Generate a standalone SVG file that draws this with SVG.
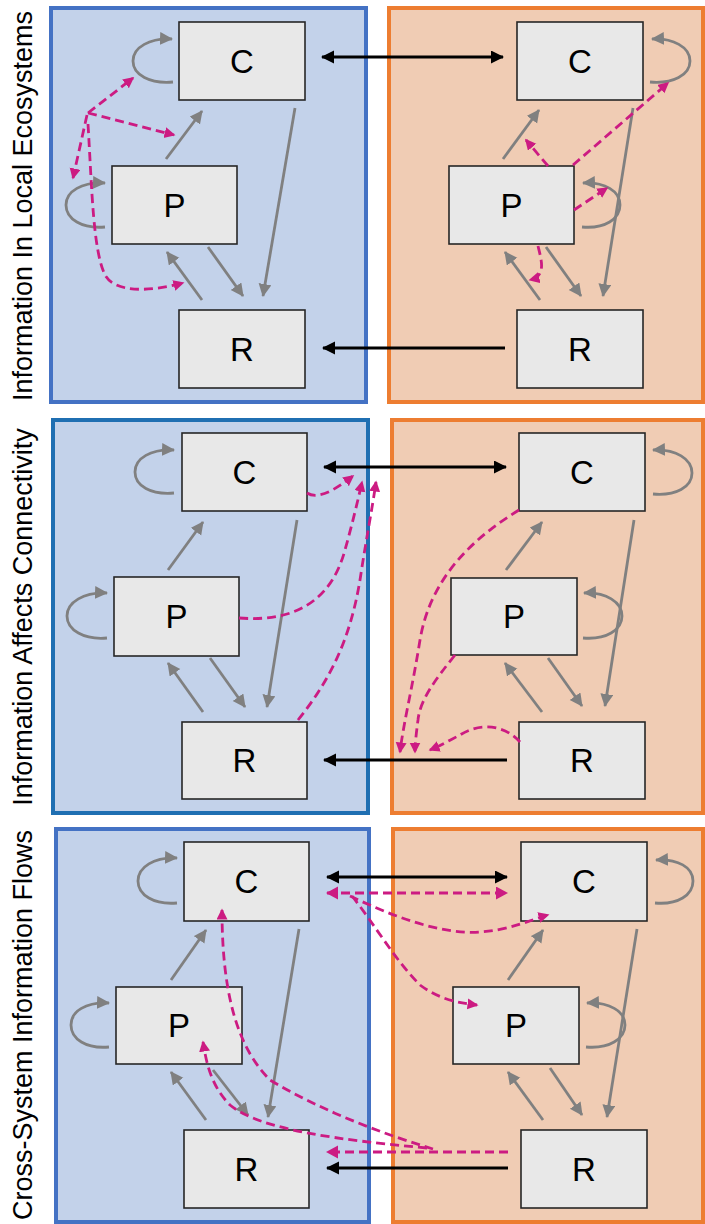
<svg xmlns="http://www.w3.org/2000/svg" width="705" height="1224" viewBox="0 0 705 1224">
<style>
.bp{fill:#c3d2ea;stroke:#4472c4;stroke-width:4}
.bp2{fill:#c3d2ea;stroke:#1f6fb2;stroke-width:4}
.op{fill:#f0ccb4;stroke:#ed7d31;stroke-width:4}
.nd rect{fill:#e8e8e8;stroke:#262626;stroke-width:1.6}
.nd text{font-family:"Liberation Sans",Arial,sans-serif;font-size:33px;text-anchor:middle;fill:#000}
.lbl{font-family:"Liberation Sans",Arial,sans-serif;font-size:27px;text-anchor:middle;fill:#000}
.g{fill:none;stroke:#808080;stroke-width:2.8;marker-end:url(#ag)}
.k{fill:none;stroke:#000;stroke-width:2.8;marker-end:url(#ak)}
.kk{fill:none;stroke:#000;stroke-width:2.8;marker-end:url(#ak);marker-start:url(#ak)}
.m{fill:none;stroke:#cc1b82;stroke-width:2.8;stroke-dasharray:9,5;marker-end:url(#am)}
.mb{fill:none;stroke:#cc1b82;stroke-width:2.8;stroke-dasharray:9,5;marker-end:url(#amb)}
.mbb{fill:none;stroke:#cc1b82;stroke-width:2.8;stroke-dasharray:9,5;marker-end:url(#amb);marker-start:url(#amb)}
</style>
<defs>
<marker id="ag" markerUnits="userSpaceOnUse" markerWidth="14" markerHeight="14" refX="12" refY="6.5" orient="auto-start-reverse"><path d="M0,0 L13,6.5 L0,13 Z" fill="#808080"/></marker>
<marker id="ak" markerUnits="userSpaceOnUse" markerWidth="14" markerHeight="14" refX="12" refY="6.5" orient="auto-start-reverse"><path d="M0,0 L13,6.5 L0,13 Z" fill="#000"/></marker>
<marker id="am" markerUnits="userSpaceOnUse" markerWidth="12" markerHeight="12" refX="9.5" refY="5.5" orient="auto-start-reverse"><path d="M0,0 L11,5.5 L0,11 Z" fill="#cc1b82"/></marker>
<marker id="amb" markerUnits="userSpaceOnUse" markerWidth="14" markerHeight="14" refX="11" refY="6.5" orient="auto-start-reverse"><path d="M0,0 L12,6.5 L0,13 Z" fill="#cc1b82"/></marker>
</defs>
<rect width="705" height="1224" fill="#fff"/>
<g id="panels">
<rect class="bp" x="51" y="8" width="315" height="394"/>
<rect class="op" x="389" y="8" width="314" height="394"/>
<rect class="bp2" x="53" y="420" width="315" height="393"/>
<rect class="op" x="392" y="420" width="311" height="393"/>
<rect class="bp" x="56" y="829" width="313" height="393"/>
<rect class="op" x="393" y="829" width="310" height="393"/>
</g>
<g id="labels">
<text class="lbl" transform="translate(32,206) rotate(-90)">Information In Local Ecosystems</text>
<text class="lbl" transform="translate(32,617) rotate(-90)">Information Affects Connectivity</text>
<text class="lbl" transform="translate(32,1025) rotate(-90)">Cross-System Information Flows</text>
</g>
<g id="n1LC" class="nd"><rect x="179" y="22" width="126" height="78"/><text x="242" y="73">C</text></g>
<g id="n1LP" class="nd"><rect x="112" y="166" width="125" height="78"/><text x="174.5" y="217">P</text></g>
<g id="n1LR" class="nd"><rect x="179" y="310" width="126" height="78"/><text x="242" y="361">R</text></g>
<g id="n1RC" class="nd"><rect x="517" y="22" width="126" height="78"/><text x="580" y="73">C</text></g>
<g id="n1RP" class="nd"><rect x="449" y="166" width="125" height="78"/><text x="511.5" y="217">P</text></g>
<g id="n1RR" class="nd"><rect x="517" y="310" width="126" height="78"/><text x="580" y="361">R</text></g>
<g id="n2LC" class="nd"><rect x="182" y="433" width="125" height="78"/><text x="244.5" y="484">C</text></g>
<g id="n2LP" class="nd"><rect x="114" y="577" width="125" height="79"/><text x="176.5" y="628">P</text></g>
<g id="n2LR" class="nd"><rect x="182" y="722" width="125" height="77"/><text x="244.5" y="772">R</text></g>
<g id="n2RC" class="nd"><rect x="519" y="433" width="126" height="78"/><text x="582" y="484">C</text></g>
<g id="n2RP" class="nd"><rect x="451" y="578" width="126" height="77"/><text x="514" y="628">P</text></g>
<g id="n2RR" class="nd"><rect x="519" y="722" width="126" height="77"/><text x="582" y="772">R</text></g>
<g id="n3LC" class="nd"><rect x="184" y="842" width="125" height="79"/><text x="246.5" y="893">C</text></g>
<g id="n3LP" class="nd"><rect x="116" y="987" width="126" height="77"/><text x="179" y="1037">P</text></g>
<g id="n3LR" class="nd"><rect x="184" y="1130" width="125" height="78"/><text x="246.5" y="1181">R</text></g>
<g id="n3RC" class="nd"><rect x="521" y="842" width="126" height="79"/><text x="584" y="893">C</text></g>
<g id="n3RP" class="nd"><rect x="453" y="987" width="126" height="77"/><text x="516" y="1037">P</text></g>
<g id="n3RR" class="nd"><rect x="521" y="1130" width="126" height="78"/><text x="584" y="1181">R</text></g>
<g id="connectors">
<!-- row 1 -->
<path class="kk" d="M322,57 L503,57"/>
<path class="k" d="M505,348 L323,348"/>
<path class="g" d="M173,82 C150,84 133,75 133,61 C133,47 150,38 172,39"/>
<path class="g" d="M105,227 C82,229 66,219 66,205 C66,191 82,182 105,183"/>
<path class="g" d="M166,159 L202,111"/>
<path class="g" d="M295,108 L263,296"/>
<path class="g" d="M208,247 L243,296"/>
<path class="g" d="M202,300 L167,252"/>
<path class="g" d="M650,82 C673,84 690,75 690,61 C690,47 673,38 652,39"/>
<path class="g" d="M582,227 C605,229 620,219 620,205 C620,191 605,182 583,183"/>
<path class="g" d="M503,159 L539,110"/>
<path class="g" d="M633,108 L603,296"/>
<path class="g" d="M546,247 L581,296"/>
<path class="g" d="M540,300 L505,252"/>
<path class="m" d="M88,113 L133,78"/>
<path class="m" d="M88,113 L174,135"/>
<path class="m" d="M87,115 L73,178"/>
<path class="m" d="M88,124 C92,190 93,250 105,275 C115,293 150,292 183,283"/>
<path class="m" d="M548,166 L526,140"/>
<path class="m" d="M573,165 L668,83"/>
<path class="m" d="M574,210 L607,188"/>
<path class="m" d="M538,246 C542,262 546,276 530,280"/>
<!-- row 2 -->
<path class="kk" d="M324,467 L506,467"/>
<path class="k" d="M507,760 L324,760"/>
<path class="g" d="M174,493 C151,495 135,486 135,472 C135,458 151,449 174,450"/>
<path class="g" d="M107,638 C84,640 67,630 67,616 C67,602 84,592 107,593"/>
<path class="g" d="M168,570 L203,522"/>
<path class="g" d="M297,520 L267,707"/>
<path class="g" d="M210,658 L245,707"/>
<path class="g" d="M203,712 L168,663"/>
<path class="g" d="M653,494 C676,496 692,487 692,473 C692,459 676,449 653,450"/>
<path class="g" d="M583,638 C606,640 622,630 622,616 C622,602 606,592 584,593"/>
<path class="g" d="M506,570 L542,522"/>
<path class="g" d="M634,520 L605,706"/>
<path class="g" d="M548,658 L582,706"/>
<path class="g" d="M542,712 L505,663"/>
<path class="m" d="M307,493 C318,500 335,490 353,476"/>
<path class="m" d="M239,618 C290,622 330,605 345,550 C352,525 358,500 362,482"/>
<path class="m" d="M298,720 C330,680 350,640 360,580 C366,540 372,510 376,482"/>
<path class="m" d="M519,510 C470,540 430,580 420,640 C412,690 404,720 400,752"/>
<path class="m" d="M455,655 C435,680 420,700 418,720 C416,735 415,745 415,752"/>
<path class="m" d="M520,742 C505,725 480,722 460,735 C450,740 440,746 430,750"/>
<!-- row 3 -->
<path class="kk" d="M327,877 L507,877"/>
<path class="k" d="M508,1168 L327,1168"/>
<path class="g" d="M177,903 C154,905 138,895 138,881 C138,867 154,857 177,858"/>
<path class="g" d="M109,1047 C86,1049 71,1039 71,1025 C71,1011 86,1002 109,1003"/>
<path class="g" d="M171,980 L206,930"/>
<path class="g" d="M299,929 L268,1117"/>
<path class="g" d="M213,1070 L248,1115"/>
<path class="g" d="M206,1120 L171,1072"/>
<path class="g" d="M655,903 C678,905 693,895 693,881 C693,867 678,859 656,860"/>
<path class="g" d="M586,1047 C609,1049 625,1039 625,1025 C625,1011 609,1002 587,1003"/>
<path class="g" d="M508,980 L543,930"/>
<path class="g" d="M637,929 L607,1117"/>
<path class="g" d="M550,1068 L582,1115"/>
<path class="g" d="M543,1120 L508,1072"/>
<path class="mbb" d="M327,893 L507,893"/>
<path class="m" d="M350,896 C390,915 440,935 480,932 C510,930 530,920 548,915"/>
<path class="m" d="M352,896 C375,925 395,960 420,985 C440,1000 460,1003 477,1005"/>
<path class="mb" d="M508,1152 L327,1152"/>
<path class="m" d="M433,1149 C380,1133 320,1110 270,1080 C240,1050 222,1000 222,910"/>
<path class="m" d="M427,1148 C340,1140 260,1130 230,1105 C210,1085 206,1060 203,1042"/>
</g>
</svg>
